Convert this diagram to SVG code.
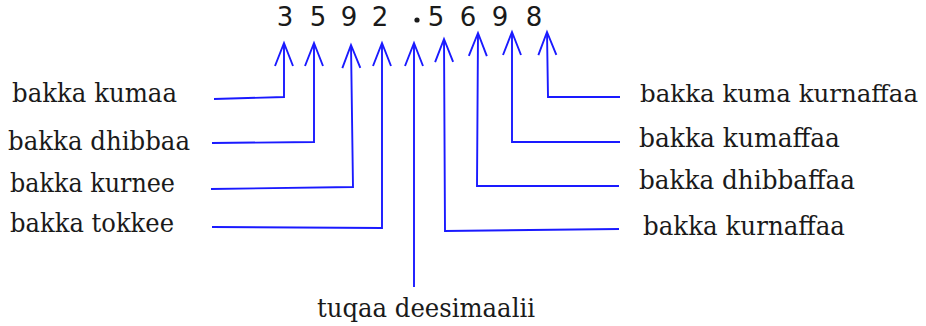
<svg xmlns="http://www.w3.org/2000/svg" width="926" height="326" viewBox="0 0 926 326">
<style>
.lbl{font-family:"DejaVu Serif","Liberation Serif",serif;font-size:25.5px;fill:#1a1a1a}
.dig{font-family:"DejaVu Sans","Liberation Sans",sans-serif;font-size:26px;fill:#1a1a1a;text-anchor:middle}
.con{fill:none;stroke:#1a1aff;stroke-width:1.9;stroke-linejoin:miter;marker-end:url(#ah)}
</style>
<defs>
<marker id="ah" markerUnits="userSpaceOnUse" viewBox="-24 -10 26 20" refX="0" refY="0" markerWidth="26" markerHeight="20" orient="auto" overflow="visible">
<path d="M-23,-9 L0,0 L-23,9" fill="none" stroke="#1a1aff" stroke-width="1.9"/>
</marker>
</defs>
<g id="number">
<text class="dig" x="285" y="26">3</text>
<text class="dig" x="318" y="26">5</text>
<text class="dig" x="349" y="26">9</text>
<text class="dig" x="380" y="26">2</text>
<circle cx="417" cy="20" r="2.6" fill="#1a1a1a"/>
<text class="dig" x="436" y="26">5</text>
<text class="dig" x="468" y="26">6</text>
<text class="dig" x="500" y="26">9</text>
<text class="dig" x="534" y="26">8</text>
</g>
<g id="connectors">
<polyline class="con" points="214,99 284,97 284,43"/>
<polyline class="con" points="212,143 314,142 314,43"/>
<polyline class="con" points="211,189 353,187 351,45"/>
<polyline class="con" points="212,227 382,228 382,43"/>
<polyline class="con" points="414,287 414,43"/>
<polyline class="con" points="619,229 445,231 444,39"/>
<polyline class="con" points="619,186 477,186 478,33"/>
<polyline class="con" points="620,142 512,142 512,32"/>
<polyline class="con" points="620,97 548,97 547,32"/>
</g>
<g id="label-kumaa"><text class="lbl" x="12" y="102" textLength="165" lengthAdjust="spacingAndGlyphs">bakka kumaa</text></g>
<g id="label-dhibbaa"><text class="lbl" x="8" y="150" textLength="182" lengthAdjust="spacingAndGlyphs">bakka dhibbaa</text></g>
<g id="label-kurnee"><text class="lbl" x="10" y="192" textLength="165" lengthAdjust="spacingAndGlyphs">bakka kurnee</text></g>
<g id="label-tokkee"><text class="lbl" x="10" y="232" textLength="164" lengthAdjust="spacingAndGlyphs">bakka tokkee</text></g>
<g id="label-kuma-kurnaffaa"><text class="lbl" x="640" y="102" style="font-size:24.4px" textLength="278" lengthAdjust="spacingAndGlyphs">bakka kuma kurnaffaa</text></g>
<g id="label-kumaffaa"><text class="lbl" x="639" y="147" textLength="201" lengthAdjust="spacingAndGlyphs">bakka kumaffaa</text></g>
<g id="label-dhibbaffaa"><text class="lbl" x="639" y="189" textLength="216" lengthAdjust="spacingAndGlyphs">bakka dhibbaffaa</text></g>
<g id="label-kurnaffaa"><text class="lbl" x="643" y="235" textLength="202" lengthAdjust="spacingAndGlyphs">bakka kurnaffaa</text></g>
<g id="label-tuqaa"><text class="lbl" x="317" y="317" textLength="218" lengthAdjust="spacingAndGlyphs">tuqaa deesimaalii</text></g>
</svg>
